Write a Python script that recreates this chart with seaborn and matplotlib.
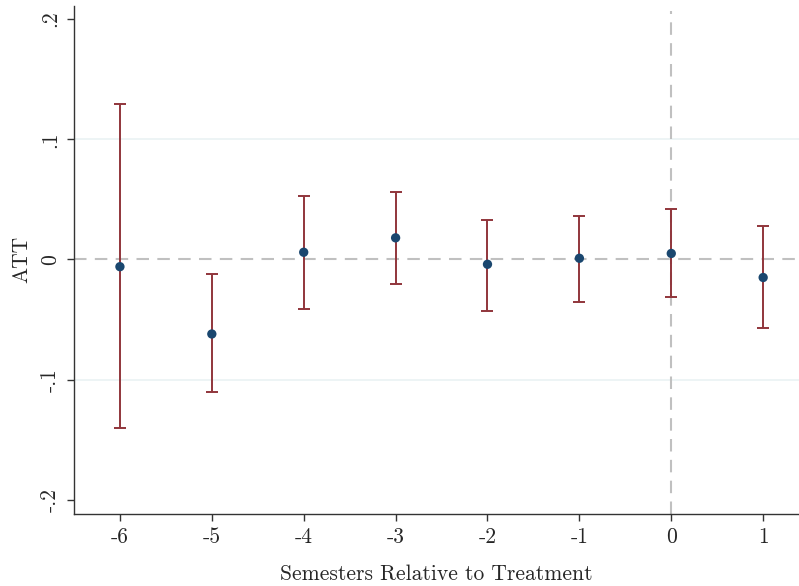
import numpy as np
import pandas as pd
import seaborn as sns
import matplotlib.pyplot as plt

# event-study estimates
periods = [-6, -5, -4, -3, -2, -1, 0, 1]
att = [-0.006, -0.062, 0.006, 0.018, -0.004, 0.001, 0.005, -0.015]
ci_low = [-0.140, -0.110, -0.041, -0.020, -0.0425, -0.035, -0.031, -0.057]
ci_high = [0.129, -0.012, 0.0525, 0.056, 0.033, 0.0365, 0.042, 0.0275]

ytick_vals = [-0.2, -0.1, 0, 0.1, 0.2]
ytick_labels = ["-.2", "-.1", "0", ".1", ".2"]

df = pd.DataFrame({"period": periods, "att": att, "lo": ci_low, "hi": ci_high})

sns.set_style("white")
plt.rcParams["font.family"] = ["cmr10", "DejaVu Serif"]
plt.rcParams["axes.unicode_minus"] = False
plt.rcParams["axes.formatter.use_mathtext"] = True

fig, ax = plt.subplots(figsize=(7.99, 5.86), dpi=100)
fig.subplots_adjust(left=0.0926, right=1.0, top=0.99, bottom=0.123)

# light gridlines at +-.1
for g in [-0.1, 0.1]:
    ax.axhline(g, color="#eaf2f3", lw=1.2, zorder=0)
ax.axhline(0, color="#c0c0c0", lw=1.5, ls=(0, (6, 4)), zorder=1)
ax.axvline(0, color="#c0c0c0", lw=1.5, ls=(0, (6, 4)), zorder=1, ymin=0.0, ymax=0.99)

ax.errorbar(df["period"], df["att"],
            yerr=[df["att"] - df["lo"], df["hi"] - df["att"]],
            fmt="none", ecolor="#90353b", elinewidth=1.4, capsize=4,
            capthick=1.4, zorder=2)
sns.scatterplot(data=df, x="period", y="att", ax=ax, color="#1a476f",
                s=45, edgecolor="none", zorder=3)

ax.set_xlim(-6.5, 1.39)
ax.set_ylim(-0.2117, 0.211)
ax.set_xticks(periods)
ax.set_xticklabels([str(p) for p in periods])
ax.set_yticks(ytick_vals)
ax.set_yticklabels(ytick_labels, rotation=90, va="center")

for side in ["top", "right"]:
    ax.spines[side].set_visible(False)
for side in ["left", "bottom"]:
    ax.spines[side].set_color("#333333")
    ax.spines[side].set_linewidth(1.0)
ax.tick_params(axis="both", direction="out", length=5, width=1, color="#333333",
               labelsize=15.5, pad=5, left=True, bottom=True)

ax.set_xlabel("Semesters Relative to Treatment", fontsize=15.5, labelpad=12)
ax.set_ylabel("ATT", fontsize=15.5, labelpad=7)

fig.savefig("out.png", dpi=100)
